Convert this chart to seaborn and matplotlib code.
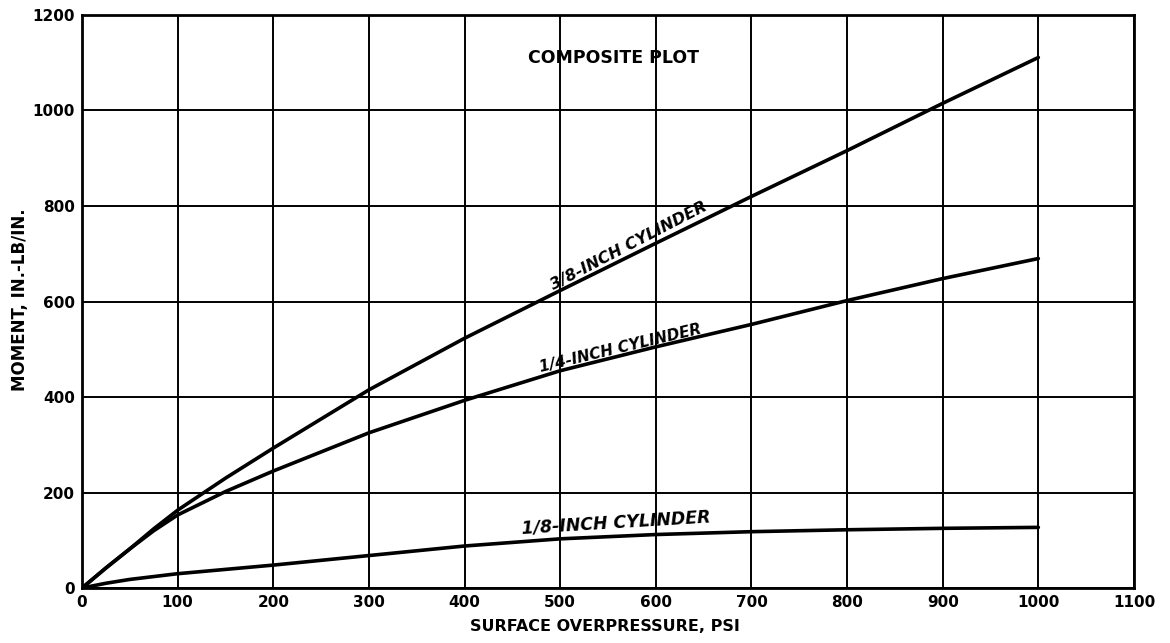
import matplotlib
matplotlib.use("Agg")
import matplotlib.pyplot as plt
import seaborn as sns
import pandas as pd

# Surface overpressure (psi) and bending moment (in.-lb/in.) for each cylinder size
pressure_38 = [0, 25, 50, 75, 100, 150, 200, 300, 400, 500, 600, 700, 800, 900, 1000]
moment_38 = [0, 42, 82, 124, 163, 230, 293, 415, 523, 623, 722, 820, 916, 1015, 1111]

pressure_14 = [0, 25, 50, 75, 100, 150, 200, 300, 400, 500, 600, 700, 800, 900, 1000]
moment_14 = [0, 42, 82, 120, 153, 202, 245, 325, 393, 455, 505, 552, 602, 648, 690]

pressure_18 = [0, 25, 50, 100, 200, 300, 400, 500, 600, 700, 800, 900, 1000]
moment_18 = [0, 10, 18, 30, 48, 68, 88, 103, 112, 118, 122, 125, 127]

x_ticks = [0, 100, 200, 300, 400, 500, 600, 700, 800, 900, 1000, 1100]
y_ticks = [0, 200, 400, 600, 800, 1000, 1200]

curve_labels = ["3/8-INCH CYLINDER", "1/4-INCH CYLINDER", "1/8-INCH CYLINDER"]

frames = []
for name, xs, ys in [(curve_labels[0], pressure_38, moment_38),
                     (curve_labels[1], pressure_14, moment_14),
                     (curve_labels[2], pressure_18, moment_18)]:
    frames.append(pd.DataFrame({"pressure": xs, "moment": ys, "cylinder": name}))
data = pd.concat(frames, ignore_index=True)

sns.set_style("white")
plt.rcParams["font.family"] = ["DejaVu Sans"]
plt.rcParams["text.color"] = "black"
plt.rcParams["axes.labelcolor"] = "black"
plt.rcParams["xtick.color"] = "black"
plt.rcParams["ytick.color"] = "black"

fig = plt.figure(figsize=(11.7, 6.43), dpi=100)
ax = fig.add_axes([0.0701, 0.0855, 0.8991, 0.8912])

sns.lineplot(data=data, x="pressure", y="moment", units="cylinder",
             estimator=None, color="black", linewidth=2.6, ax=ax,
             legend=False, sort=False)

ax.set_xlim(0, 1100)
ax.set_ylim(0, 1200)
ax.set_xticks(x_ticks)
ax.set_yticks(y_ticks)
ax.set_xticklabels([str(v) for v in x_ticks], fontsize=11, fontweight="bold")
ax.set_yticklabels([str(v) for v in y_ticks], fontsize=11, fontweight="bold")
ax.tick_params(axis="both", length=0, pad=5, colors="black")

ax.grid(True, color="black", linewidth=1.4)
ax.set_axisbelow(True)
for side in ax.spines.values():
    side.set_visible(True)
    side.set_color("black")
    side.set_linewidth(2.0)

ax.set_xlabel("SURFACE OVERPRESSURE, PSI", fontsize=11.5, fontweight="bold")
ax.set_ylabel("MOMENT, IN.-LB/IN.", fontsize=12, fontweight="bold")
ax.xaxis.label.set_va("center")
ax.yaxis.label.set_va("center")
ax.xaxis.set_label_coords(0.497, -0.068)
ax.yaxis.set_label_coords(-0.059, 0.504)

ax.text(556, 1109, "COMPOSITE PLOT", fontsize=12.5, fontweight="bold",
        ha="center", va="center")

label_style = dict(fontweight="bold", fontstyle="italic",
                   ha="center", va="center", rotation_mode="anchor")
ax.text(572, 717, curve_labels[0], rotation=27.5, fontsize=11.5, **label_style)
ax.text(563, 502, curve_labels[1], rotation=13.5, fontsize=11, **label_style)
ax.text(558, 136, curve_labels[2], rotation=3.5, fontsize=12.5, **label_style)

fig.savefig("out.png", dpi=100, facecolor="white")
